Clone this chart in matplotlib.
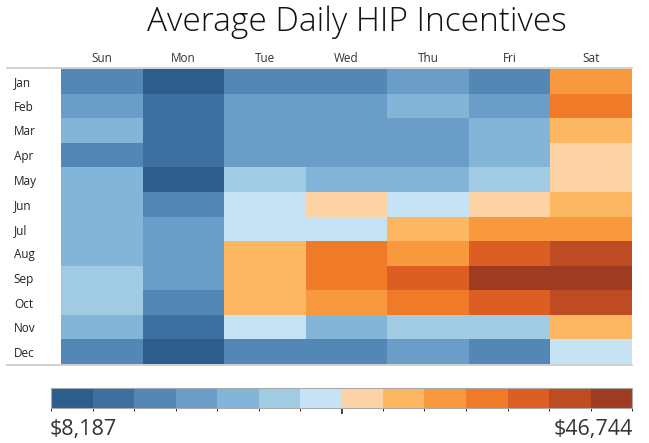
# Average daily HIP incentives heatmap (month x weekday)
import numpy as np
import matplotlib
matplotlib.use("Agg")
import matplotlib.pyplot as plt
from matplotlib.colors import ListedColormap, BoundaryNorm

days = ["Sun", "Mon", "Tue", "Wed", "Thu", "Fri", "Sat"]
months = ["Jan", "Feb", "Mar", "Apr", "May", "Jun",
          "Jul", "Aug", "Sep", "Oct", "Nov", "Dec"]

# average daily incentive ($), rows = months, cols = Sun..Sat
jan = [15100, 8187, 15300, 15000, 17900, 15200, 34500]
feb = [17800, 12300, 17700, 17900, 20600, 17800, 37200]
mar = [20500, 12400, 17800, 17700, 17900, 20600, 31500]
apr = [15000, 12200, 17900, 17800, 17700, 20500, 28900]
may = [20600, 9600, 23300, 20500, 20600, 23400, 28800]
jun = [20500, 15100, 26100, 28800, 26000, 28900, 31600]
jul = [20600, 17800, 26000, 26100, 31500, 34300, 34400]
aug = [20500, 17900, 31600, 37100, 34400, 39900, 42600]
sep = [23300, 17800, 31500, 37200, 39800, 45400, 46744]
oct_ = [23400, 15000, 31600, 34300, 37100, 39900, 42700]
nov = [20600, 12300, 26100, 20500, 23300, 23400, 31600]
dec = [15000, 9500, 15100, 15000, 17800, 15100, 26000]
values = np.array([jan, feb, mar, apr, may, jun, jul,
                   aug, sep, oct_, nov, dec])

vmin, vmax = 8187, 46744
colors = ["#2c5d8c", "#3d6fa0", "#5287b6", "#6a9ec8", "#82b5d8",
          "#a1cbe3", "#c5e3f5", "#fdd3a6", "#fdb662", "#f8993e",
          "#ef7a28", "#dc5e22", "#bd4c22", "#9f3b21"]

cmap = ListedColormap(colors)
norm = BoundaryNorm(np.linspace(vmin, vmax, len(colors) + 1), cmap.N)

plt.rcParams['font.family'] = ['Open Sans', 'DejaVu Sans']

W, H = 649, 443
fig = plt.figure(figsize=(W / 100, H / 100), dpi=100)

def px(x0, y0, x1, y1):
    # pixel box (top-left origin) -> figure fraction
    return [x0 / W, 1 - y1 / H, (x1 - x0) / W, (y1 - y0) / H]

ax = fig.add_axes(px(61, 69, 632, 364))
ax.pcolormesh(values, cmap=cmap, norm=norm)
ax.set_xlim(0, 7)
ax.set_ylim(12, 0)
for s in ax.spines.values():
    s.set_visible(False)
ax.set_xticks(np.arange(7) + 0.5)
ax.set_xticklabels(days, fontsize=8.5, color="#333333")
ax.xaxis.tick_top()
ax.set_yticks(np.arange(12) + 0.5)
ax.set_yticklabels(months, fontsize=8.5, color="#222222", ha="left")
ax.tick_params(length=0, pad=3)
ax.tick_params(axis="y", pad=34)

# thin gray rules above and below the grid
fig.add_artist(plt.Line2D([7 / W, 632 / W], [1 - 68 / H] * 2, color="#c8c8c8", lw=1.2))
fig.add_artist(plt.Line2D([7 / W, 632 / W], [1 - 365 / H] * 2, color="#c8c8c8", lw=1.2))

fig.text(357 / W, 1 - 22 / H, "Average Daily HIP Incentives",
         ha="center", va="center", fontsize=24, fontweight="light", color="#111111")

# legend bar
cax = fig.add_axes(px(51, 388, 632, 408))
cb = fig.colorbar(plt.cm.ScalarMappable(norm=norm, cmap=cmap), cax=cax,
                  orientation="horizontal")
cb.outline.set_edgecolor("#aaaaaa")
cb.set_ticks([(vmin + vmax) / 2])
cb.set_ticklabels([""])
cax.tick_params(length=4, width=1.2, color="#222222")
fig.text(50 / W, 1 - 429 / H, "$8,187", ha="left", va="center",
         fontsize=15.5, color="#333333")
fig.text(633 / W, 1 - 429 / H, "$46,744", ha="right", va="center",
         fontsize=15.5, color="#333333")

fig.savefig("out.png", dpi=100)
